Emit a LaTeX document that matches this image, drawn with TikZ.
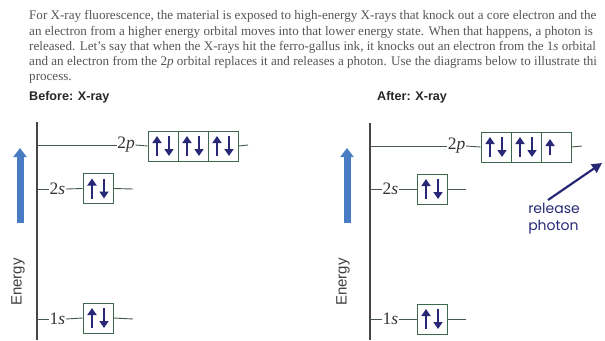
\documentclass[tikz,border=0pt]{standalone}
\usepackage{fontspec}
\setmainfont{Liberation Serif}
\setsansfont{Liberation Sans}
\newfontfamily\handfont{Poppins}
\usetikzlibrary{arrows.meta}
\definecolor{inkgray}{RGB}{85,85,85}
\definecolor{axisgray}{RGB}{70,70,70}
\definecolor{lvlgreen}{RGB}{70,88,74}
\definecolor{boxgreen}{RGB}{62,104,78}
\definecolor{spinnavy}{RGB}{40,40,118}
\definecolor{enblue}{RGB}{74,124,196}
\tikzset{
  para/.style={anchor=base west, inner sep=0, text=inkgray, font=\fontsize{13.1}{15}\selectfont},
  head/.style={anchor=base west, inner sep=0, text=black!85, font=\sffamily\bfseries\fontsize{12.6}{15}\selectfont},
  orb/.style={draw=boxgreen, line width=0.9pt, minimum width=30, minimum height=30, inner sep=0},
  lvl/.style={inner sep=0.5pt, text=black!80, font=\fontsize{17.5}{18}\selectfont},
  lvlline/.style={lvlgreen, line width=0.9pt},
  axis/.style={axisgray, line width=1.8pt},
  spin/.style={spinnavy, line width=2.7pt, -{Triangle[width=9pt,length=7pt]}},
  enarrow/.style={enblue, line width=7pt, -{Triangle[width=13pt,length=9pt]}},
  entext/.style={rotate=90, text=black!75, font=\sffamily\fontsize{15}{15}\selectfont}
}
\begin{document}
\begin{tikzpicture}[x=1pt,y=-1pt]
  \useasboundingbox (0,0) rectangle (605,340);
  \clip (0,0) rectangle (605,340);
  % text above
  \node[para] (t1) at (29,19.8) {For X-ray fluorescence, the material is exposed to high-energy X-rays that knock out a core electron and the};
  \node[para] (t2) at (29,35) {an electron from a higher energy orbital moves into that lower energy state. When that happens, a photon is};
  \node[para] (t3) at (29,50) {released. Let's say that when the X-rays hit the ferro-gallus ink, it knocks out an electron from the 1\textit{s} orbital};
  \node[para] (t4) at (29,65) {and an electron from the 2\textit{p} orbital replaces it and releases a photon. Use the diagrams below to illustrate thi};
  \node[para] (t5) at (29,80) {process.};
  \node[head] (before) at (29,100.5) {Before: X-ray};
  \node[head] (after) at (377,100.5) {After: X-ray};

  % before diagram
  \coordinate (bTop) at (37,122);
  \coordinate (bBot) at (37,340);
  \draw[axis] (bTop) -- (bBot);
  \coordinate (bArrowA) at (20,223);
  \coordinate (bArrowB) at (20,148);
  \draw[enarrow] (bArrowA) -- (bArrowB);
  \node[entext] (bEnergy) at (18,282) {Energy};
  % 2p
  \coordinate (b2pAx) at (37,145);
  \node[lvl] (b2pL) at (126,145) {2\textit{p}};
  \node[orb] (b2pA) at (163,146) {};
  \node[orb] (b2pB) at (193,146) {};
  \node[orb] (b2pC) at (223,146) {};
  \coordinate (b2pEnd) at (248,145);
  \draw[lvlline] (b2pAx) -- (b2pL.west);
  \draw[lvlline] (b2pL.east) -- (b2pA.west);
  \draw[lvlline] (b2pC.east) -- (b2pEnd);
  % 2s
  \coordinate (b2sAx) at (37,189);
  \node[lvl] (b2sL) at (57.5,189) {2\textit{s}};
  \node[orb] (b2s) at (98,188.5) {};
  \coordinate (b2sEnd) at (133,189);
  \draw[lvlline] (b2sAx) -- (b2sL.west);
  \draw[lvlline] (b2sL.east) -- (b2s.west);
  \draw[lvlline] (b2s.east) -- (b2sEnd);
  % 1s
  \coordinate (b1sAx) at (37,319);
  \node[lvl] (b1sL) at (57.5,319) {1\textit{s}};
  \node[orb] (b1s) at (98,318) {};
  \coordinate (b1sEnd) at (133,319);
  \draw[lvlline] (b1sAx) -- (b1sL.west);
  \draw[lvlline] (b1sL.east) -- (b1s.west);
  \draw[lvlline] (b1s.east) -- (b1sEnd);
  % electrons
  \foreach \o in {b2pA,b2pB,b2pC,b2s,b1s} {
    \draw[spin] ([shift={(-6,10)}]\o.center) -- ([shift={(-6,-10)}]\o.center);
    \draw[spin] ([shift={(6,-10)}]\o.center) -- ([shift={(6,10)}]\o.center);
  }

  % after diagram
  \coordinate (aTop) at (370,123);
  \coordinate (aBot) at (370,340);
  \draw[axis] (aTop) -- (aBot);
  \coordinate (aArrowA) at (347,223);
  \coordinate (aArrowB) at (347,148);
  \draw[enarrow] (aArrowA) -- (aArrowB);
  \node[entext] (aEnergy) at (343,282) {Energy};
  % 2p
  \coordinate (a2pAx) at (370,146);
  \node[lvl] (a2pL) at (456.5,146) {2\textit{p}};
  \node[orb] (a2pA) at (496,147) {};
  \node[orb] (a2pB) at (526,147) {};
  \node[orb] (a2pC) at (556,147) {};
  \coordinate (a2pEnd) at (582,146);
  \draw[lvlline] (a2pAx) -- (a2pL.west);
  \draw[lvlline] (a2pL.east) -- (a2pA.west);
  \draw[lvlline] (a2pC.east) -- (a2pEnd);
  % 2s
  \coordinate (a2sAx) at (370,189);
  \node[lvl] (a2sL) at (390.5,189) {2\textit{s}};
  \node[orb] (a2s) at (432,189) {};
  \coordinate (a2sEnd) at (466,189);
  \draw[lvlline] (a2sAx) -- (a2sL.west);
  \draw[lvlline] (a2sL.east) -- (a2s.west);
  \draw[lvlline] (a2s.east) -- (a2sEnd);
  % 1s
  \coordinate (a1sAx) at (370,319);
  \node[lvl] (a1sL) at (390.5,319) {1\textit{s}};
  \node[orb] (a1s) at (432,319) {};
  \coordinate (a1sEnd) at (466,319);
  \draw[lvlline] (a1sAx) -- (a1sL.west);
  \draw[lvlline] (a1sL.east) -- (a1s.west);
  \draw[lvlline] (a1s.east) -- (a1sEnd);
  % electrons
  \foreach \o in {a2pA,a2pB,a2s,a1s} {
    \draw[spin] ([shift={(-6,10)}]\o.center) -- ([shift={(-6,-10)}]\o.center);
    \draw[spin] ([shift={(6,-10)}]\o.center) -- ([shift={(6,10)}]\o.center);
  }
  \draw[spin] ([shift={(-6,8)}]a2pC.center) -- ([shift={(-6,-8)}]a2pC.center);

  % released photon
  \node[align=left, inner sep=0, text=spinnavy, font=\handfont\fontsize{14}{17}\selectfont] (photon) at (554,219) {release\\photon};
  \coordinate (photonTip) at (602,163);
  \draw[spinnavy, line width=2.2pt, -{Triangle[width=10pt,length=10pt]}] (548,200) -- (photonTip);
\end{tikzpicture}
\end{document}
